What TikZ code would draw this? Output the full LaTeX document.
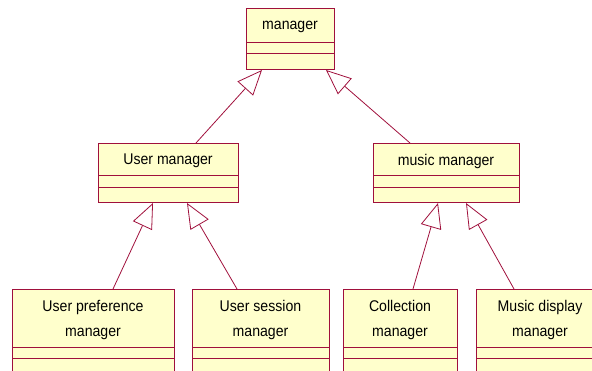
\documentclass[tikz,border=0pt]{standalone}
\usepackage{fontspec}
\setmainfont[FakeStretch=0.91]{Liberation Sans}
\usetikzlibrary{arrows.meta}
\definecolor{umlline}{RGB}{160,16,60}
\definecolor{umlfill}{RGB}{255,255,204}
\tikzset{
  classbox/.style={draw=umlline, fill=umlfill, line width=1pt, rectangle,
    anchor=north west, inner sep=0pt},
  classname/.style={font=\fontsize{15.5}{25}\selectfont, align=center,
    inner sep=0pt, text=black},
  divider/.style={draw=umlline, line width=0.9pt},
  inherits/.style={draw=umlline, line width=0.8pt,
    -{Triangle[open, length=25pt, width=21pt, fill=white]}}
}
\begin{document}
\begin{tikzpicture}[x=1pt, y=-1pt]
\useasboundingbox (0,0) rectangle (592,371);
\clip (0,0) rectangle (592,371);

% root class
\node[classbox, minimum width=88pt, minimum height=61pt] (mgr) at (246,8) {};
\node[classname] (mgrT) at (290,27) {manager};
\draw[divider] (246,42) -- (334,42) (246,53) -- (334,53);

% second level
\node[classbox, minimum width=140pt, minimum height=59pt] (um) at (98,143) {};
\node[classname] (umT) at (168,161) {User manager};
\draw[divider] (98,175) -- (238,175) (98,187) -- (238,187);

\node[classbox, minimum width=146pt, minimum height=59pt] (mm) at (373,143) {};
\node[classname] (mmT) at (446,161) {music manager};
\draw[divider] (373,175) -- (519,175) (373,187) -- (519,187);

% third level (runs past the lower edge)
\node[classbox, minimum width=162pt, minimum height=100pt] (up) at (12,289) {};
\node[classname] (upT) at (93,320) {User preference\\manager};
\draw[divider] (12,347) -- (174,347) (12,358) -- (174,358);

\node[classbox, minimum width=137pt, minimum height=100pt] (us) at (192,289) {};
\node[classname] (usT) at (260.5,320) {User session\\manager};
\draw[divider] (192,347) -- (329,347) (192,358) -- (329,358);

\node[classbox, minimum width=114pt, minimum height=100pt] (co) at (343,289) {};
\node[classname] (coT) at (400,320) {Collection\\manager};
\draw[divider] (343,347) -- (457,347) (343,358) -- (457,358);

\node[classbox, minimum width=140pt, minimum height=100pt] (md) at (476,289) {};
\node[classname] (mdT) at (540,320) {Music display\\manager};
\draw[divider] (476,347) -- (616,347) (476,358) -- (616,358);

% generalization arrows
\draw[inherits] ([xshift=98pt]um.north west) -- ([xshift=16pt]mgr.south west);
\draw[inherits] ([xshift=37pt]mm.north west) -- ([xshift=80pt]mgr.south west);
\draw[inherits] ([xshift=101pt]up.north west) -- ([xshift=55pt]um.south west);
\draw[inherits] ([xshift=45pt]us.north west) -- ([xshift=89pt]um.south west);
\draw[inherits] ([xshift=70pt]co.north west) -- ([xshift=65pt]mm.south west);
\draw[inherits] ([xshift=38pt]md.north west) -- ([xshift=93pt]mm.south west);
\end{tikzpicture}
\end{document}
